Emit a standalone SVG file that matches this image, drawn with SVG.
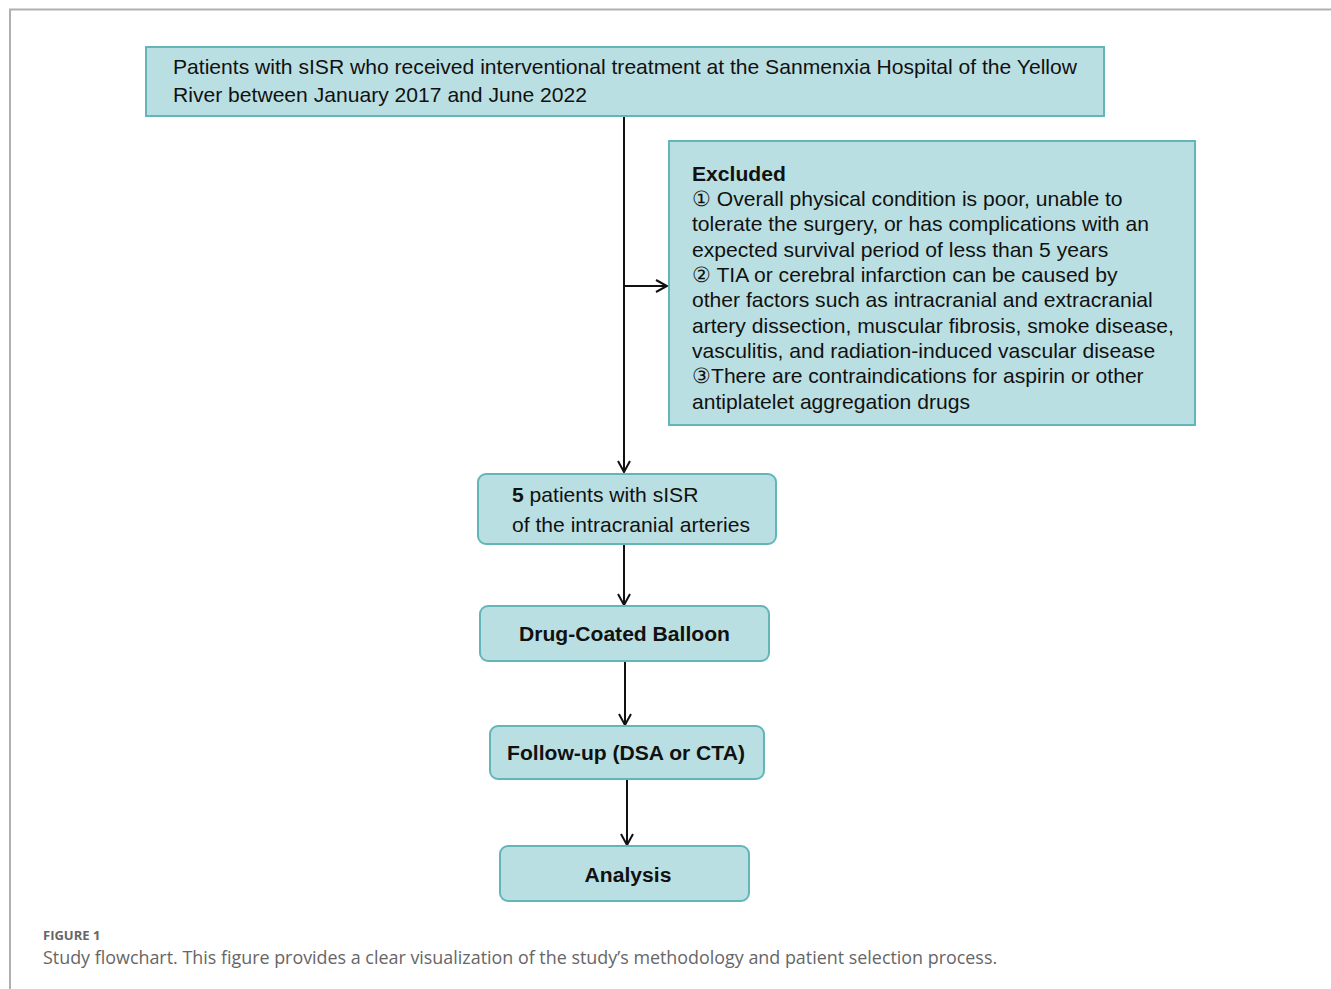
<svg xmlns="http://www.w3.org/2000/svg" width="1331" height="989" viewBox="0 0 1331 989">
<defs>
<style>
.box{fill:#badfe2;stroke:#62b6b9;stroke-width:2}
.t{font-family:"Liberation Sans",Arial,sans-serif;font-size:21.1px;fill:#111}
.b{font-weight:bold}
.c{stroke:#111;stroke-width:2;fill:none}
.cap{font-family:"Open Sans","Lato",sans-serif;fill:#666}
</style>
<marker id="ah" markerWidth="14" markerHeight="14" refX="12" refY="7" orient="auto" markerUnits="userSpaceOnUse">
<path d="M1,1 L12,7 L1,13" fill="none" stroke="#111" stroke-width="2"/>
</marker>
</defs>
<rect width="1331" height="989" fill="#fff"/>
<path d="M10,989 V9.5 H1331" fill="none" stroke="#b0b0b0" stroke-width="2"/>
<g id="connectors">
<line class="c" x1="624" y1="116" x2="624" y2="472" marker-end="url(#ah)"/>
<line class="c" x1="624" y1="286" x2="667" y2="286" marker-end="url(#ah)"/>
<line class="c" x1="624" y1="544" x2="624" y2="605" marker-end="url(#ah)"/>
<line class="c" x1="625" y1="661" x2="625" y2="725" marker-end="url(#ah)"/>
<line class="c" x1="627" y1="779" x2="627" y2="845" marker-end="url(#ah)"/>
</g>
<g id="n-top">
<rect class="box" x="146" y="47" width="958" height="69"/>
<text class="t" x="173" y="74">Patients with sISR who received interventional treatment at the Sanmenxia Hospital of the Yellow</text>
<text class="t" x="173" y="102">River between January 2017 and June 2022</text>
</g>
<g id="n-excluded">
<rect class="box" x="669" y="141" width="526" height="284"/>
<text class="t b" x="692" y="181">Excluded</text>
<text class="t" x="692" y="206">① Overall physical condition is poor, unable to</text>
<text class="t" x="692" y="231">tolerate the surgery, or has complications with an</text>
<text class="t" x="692" y="257">expected survival period of less than 5 years</text>
<text class="t" x="692" y="282">② TIA or cerebral infarction can be caused by</text>
<text class="t" x="692" y="307">other factors such as intracranial and extracranial</text>
<text class="t" x="692" y="333">artery dissection, muscular fibrosis, smoke disease,</text>
<text class="t" x="692" y="358">vasculitis, and radiation-induced vascular disease</text>
<text class="t" x="692" y="383">③There are contraindications for aspirin or other</text>
<text class="t" x="692" y="409">antiplatelet aggregation drugs</text>
</g>
<g id="n-patients">
<rect class="box" x="478" y="474" width="298" height="70" rx="8"/>
<text class="t" x="512" y="502"><tspan class="b">5</tspan> patients with sISR</text>
<text class="t" x="512" y="532">of the intracranial arteries</text>
</g>
<g id="n-dcb">
<rect class="box" x="480" y="606" width="289" height="55" rx="8"/>
<text class="t b" x="624.5" y="641" text-anchor="middle">Drug-Coated Balloon</text>
</g>
<g id="n-follow">
<rect class="box" x="490" y="726" width="274" height="53" rx="8"/>
<text class="t b" x="626" y="760" text-anchor="middle">Follow-up (DSA or CTA)</text>
</g>
<g id="n-analysis">
<rect class="box" x="500" y="846" width="249" height="55" rx="8"/>
<text class="t b" x="628" y="882" text-anchor="middle">Analysis</text>
</g>
<g id="caption">
<text class="cap" x="43" y="940" font-size="13" font-weight="bold" fill="#777">FIGURE 1</text>
<text class="cap" x="43" y="964" font-size="17.9">Study flowchart. This figure provides a clear visualization of the study’s methodology and patient selection process.</text>
</g>
</svg>
